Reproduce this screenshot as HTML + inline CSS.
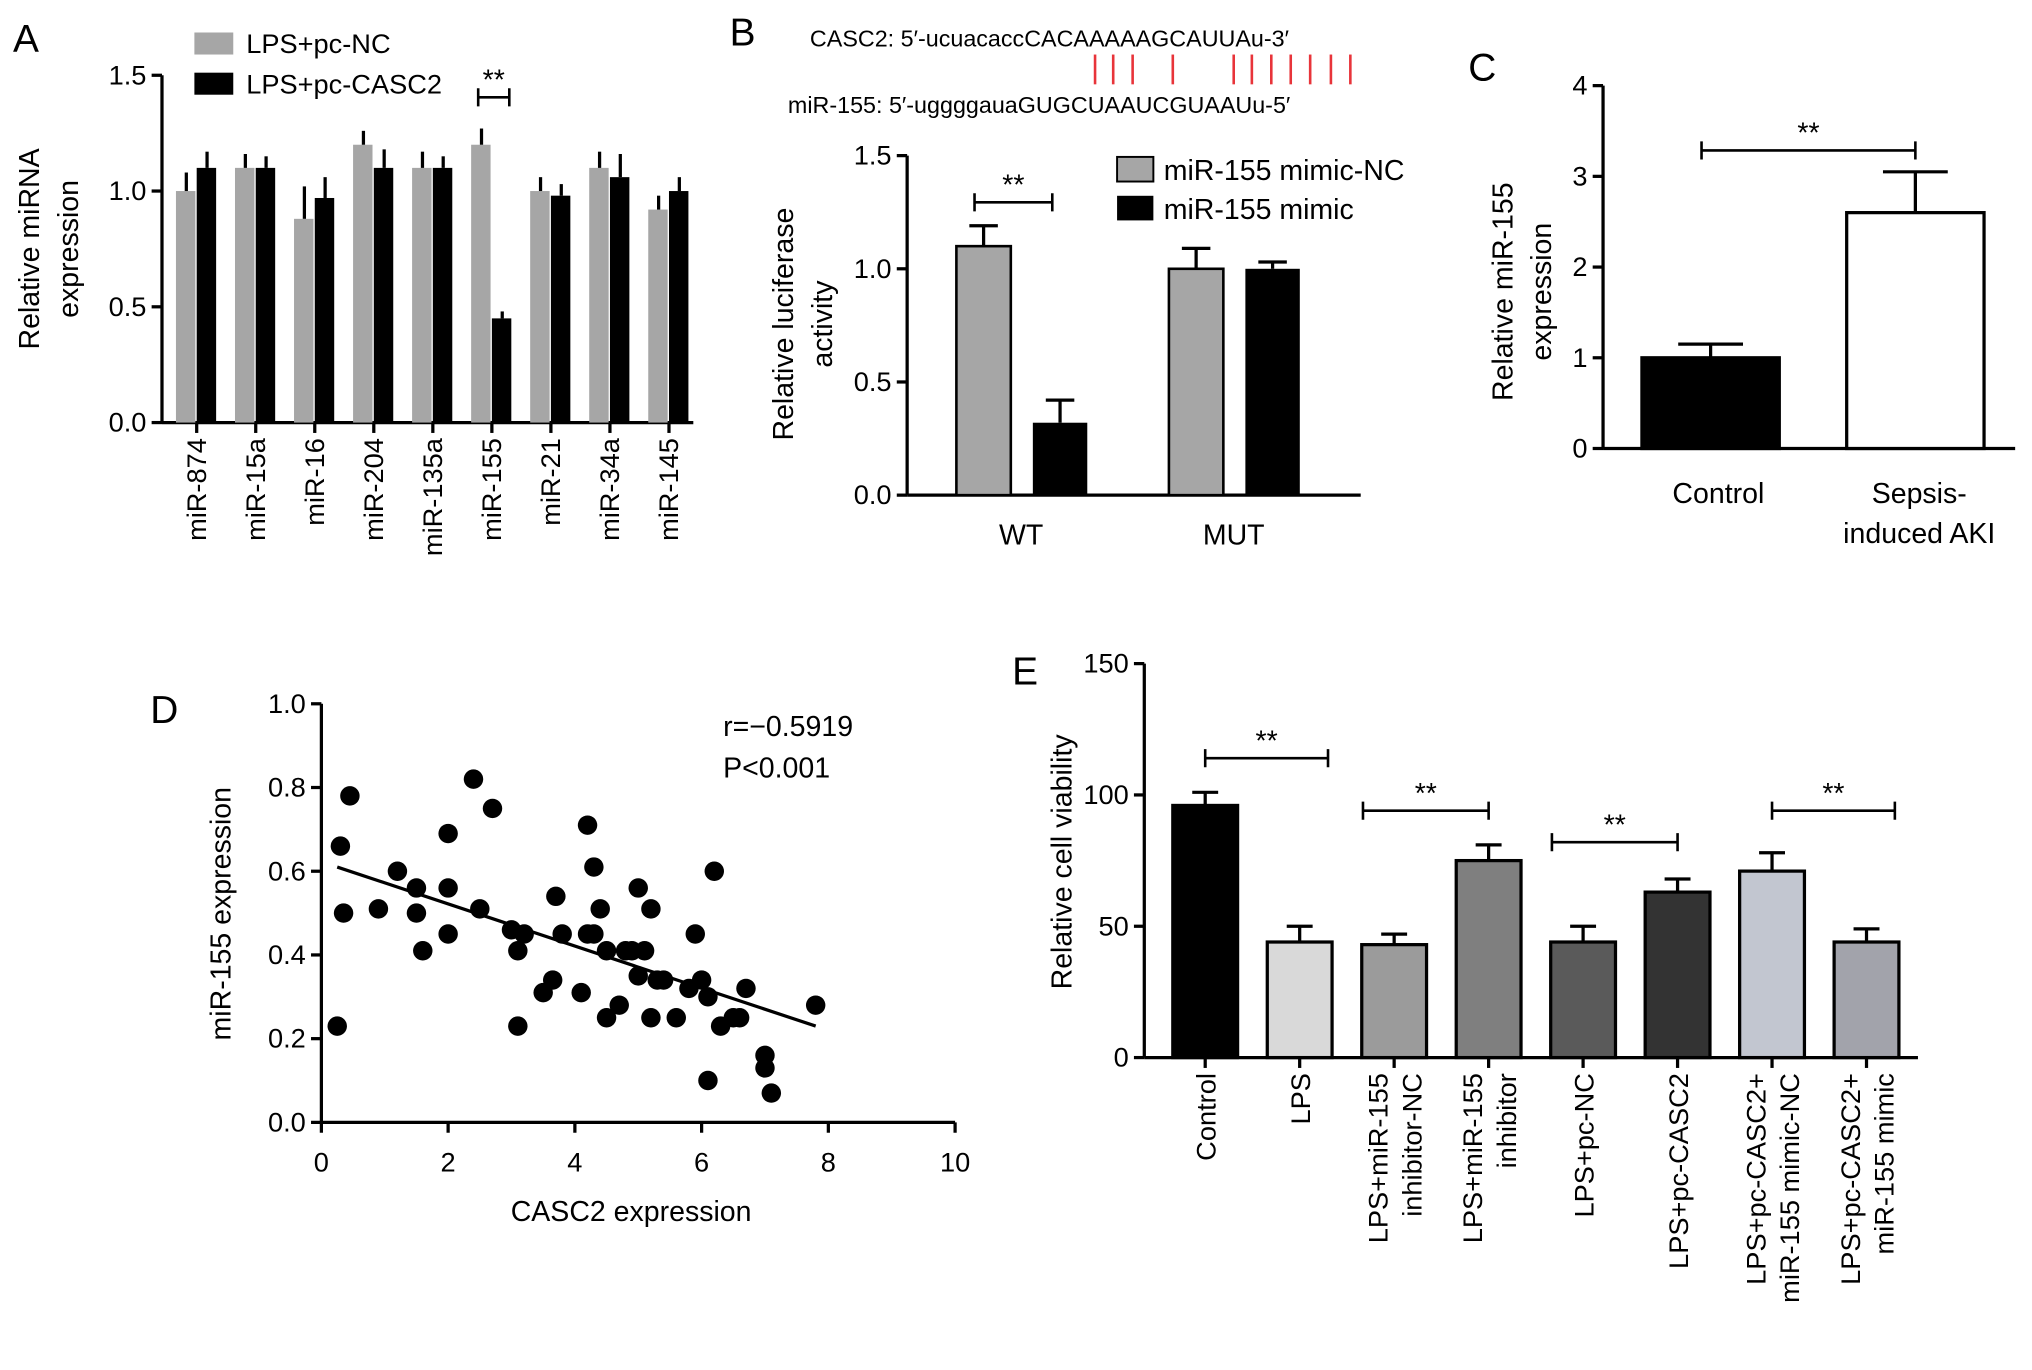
<!DOCTYPE html>
<html><head><meta charset="utf-8"><style>
html,body{margin:0;padding:0;background:#fff}
svg{display:block;font-family:"Liberation Sans",Arial,sans-serif}
</style></head><body>
<svg id="fig" width="2032" height="1370" viewBox="0 0 1568 1057" xmlns="http://www.w3.org/2000/svg">
<g font-size="30" fill="#000">
<text x="10" y="40">A</text><text x="563" y="35">B</text><text x="1133" y="62">C</text><text x="116" y="558">D</text><text x="781" y="528">E</text>
</g>
<g id="A"></g>
<g id="B"></g>
<g id="C"></g>
<g id="D"></g>
<g id="E"></g>
</svg>
<script>
// Panel A data
const aCats=["miR-874","miR-15a","miR-16","miR-204","miR-135a","miR-155","miR-21","miR-34a","miR-145"];
const aNC=[1.0,1.1,0.88,1.2,1.1,1.2,1.0,1.1,0.92];
const aNCerr=[0.08,0.06,0.14,0.06,0.07,0.07,0.06,0.07,0.06];
const aCASC=[1.1,1.1,0.97,1.1,1.1,0.45,0.98,1.06,1.0];
const aCASCerr=[0.07,0.05,0.09,0.08,0.05,0.03,0.05,0.1,0.06];
const aTicks=[0,0.5,1.0,1.5];
// Panel B data
const bCats=["WT","MUT"];
const bNC=[1.1,1.0];const bNCerr=[0.09,0.09];
const bMimic=[0.32,1.0];const bMimicErr=[0.1,0.03];
const bTicks=[0,0.5,1.0,1.5];
// Panel C data
const cCats=[["Control"],["Sepsis-","induced AKI"]];
const cVals=[1.0,2.6];const cErr=[0.15,0.45];
const cTicks=[0,1,2,3,4];
// Panel D data
const dX=[0.25,0.3,0.35,0.45,0.9,1.2,1.5,1.5,1.6,2.0,2.0,2.0,2.4,2.5,2.7,3.0,3.1,3.1,3.2,3.5,3.65,3.7,3.8,4.1,4.2,4.2,4.3,4.3,4.4,4.5,4.5,4.7,4.8,4.9,5.0,5.0,5.1,5.2,5.2,5.3,5.4,5.6,5.8,5.9,6.0,6.1,6.1,6.2,6.3,6.5,6.6,6.7,7.0,7.0,7.1,7.8];
const dY=[0.23,0.66,0.50,0.78,0.51,0.60,0.56,0.50,0.41,0.69,0.56,0.45,0.82,0.51,0.75,0.46,0.41,0.23,0.45,0.31,0.34,0.54,0.45,0.31,0.45,0.71,0.61,0.45,0.51,0.25,0.41,0.28,0.41,0.41,0.56,0.35,0.41,0.51,0.25,0.34,0.34,0.25,0.32,0.45,0.34,0.10,0.30,0.60,0.23,0.25,0.25,0.32,0.16,0.13,0.07,0.28];
const dFitX=[0.25,7.8];const dFitY=[0.61,0.23];
const dXTicks=[0,2,4,6,8,10];const dYTicks=[0,0.2,0.4,0.6,0.8,1.0];
// Panel E data
const eCats=[["Control"],["LPS"],["LPS+miR-155","inhibitor-NC"],["LPS+miR-155","inhibitor"],["LPS+pc-NC"],["LPS+pc-CASC2"],["LPS+pc-CASC2+","miR-155 mimic-NC"],["LPS+pc-CASC2+","miR-155 mimic"]];
const eVals=[96,44,43,75,44,63,71,44];
const eErr=[5,6,4,6,6,5,7,5];
const eColors=["#000000","#d9d9d9","#9b9b9b","#7f7f7f","#5a5a5a","#333333","#c2c6d0","#a2a3ab"];
const eTicks=[0,50,100,150];
// brackets: start / end in category units, and height in value units
const eBrStart=[0,1.67,3.67,6];
const eBrEnd=[1.3,3,5,7.3];
const eBrVal=[114,94,82,94];

const NS="http://www.w3.org/2000/svg";
function mk(p,t,a,txt){const e=document.createElementNS(NS,t);for(const k in a)e.setAttribute(k,a[k]);if(txt!==undefined)e.textContent=txt;p.appendChild(e);return e;}
const S={stroke:"#000","stroke-width":2.5,fill:"none"};
function yaxis(g,x,y0,y1,ticks,sy,fmt,fs){
  let l=mk(g,"line",{x1:x,y1:y0,x2:x,y2:y1,...S});
  
  
  ticks.forEach(t=>{mk(g,"line",{x1:x-8,x2:x,y1:sy(t),y2:sy(t),...S});
    let tx=mk(g,"text",{x:x-12,y:sy(t)+7,"text-anchor":"end","font-size":fs||21},fmt(t));
    
    });
}
function err(g,cx,yv,ye,w){mk(g,"line",{x1:cx,x2:cx,y1:yv,y2:ye,stroke:"#000","stroke-width":2.5});mk(g,"line",{x1:cx-w,x2:cx+w,y1:ye,y2:ye,stroke:"#000","stroke-width":2.5});}
function bracket(g,x1,x2,y){mk(g,"path",{d:`M${x1} ${y-7}V${y+7}M${x1} ${y}H${x2}M${x2} ${y-7}V${y+7}`,...S,"stroke-width":2});
  let t=mk(g,"text",{x:(x1+x2)/2,y:y-6,"text-anchor":"middle","font-size":22},"**");
  
  }
function vtext(g,x,y,lines,fs,anchor,lh){const t=mk(g,"text",{transform:`translate(${x},${y}) rotate(-90)`,"text-anchor":anchor,"font-size":fs});
  lines.forEach((s,i)=>{mk(t,"tspan",{x:0,dy:i?lh:0},s);});return t;}

// ---- A
(function(){const g=document.getElementById("A");
const y0=326,y1=58,sy=v=>y0-(v/1.5)*(y0-y1),x0=125,x1=535,gw=(x1-x0)/aCats.length;
yaxis(g,x0,y0,y1,aTicks,sy,t=>t.toFixed(1));
mk(g,"line",{x1:x0,x2:x1,y1:y0,y2:y0,...S});
aCats.forEach((c,i)=>{const cx=x0+gw*(i+0.5)+4;
 let b=mk(g,"rect",{x:cx-16,y:sy(aNC[i]),width:15,height:y0-sy(aNC[i]),fill:"#a6a6a6"});
 
 
 err(g,cx-8,sy(aNC[i]),sy(aNC[i]+aNCerr[i]),0);
 let b2=mk(g,"rect",{x:cx,y:sy(aCASC[i]),width:15,height:y0-sy(aCASC[i]),fill:"#000"});
 
 
 err(g,cx+8,sy(aCASC[i]),sy(aCASC[i]+aCASCerr[i]),0);
 mk(g,"line",{x1:cx,x2:cx,y1:y0,y2:y0+8,...S});
 let t=vtext(g,cx+7,y0+12,[c],21,"end",0);
 
 });
vtext(g,30,192,["Relative miRNA","expression"],22,"middle",30);
mk(g,"rect",{x:150,y:25,width:30,height:17,fill:"#a6a6a6"});mk(g,"text",{x:190,y:41,"font-size":21},"LPS+pc-NC");
mk(g,"rect",{x:150,y:56,width:30,height:17,fill:"#000"});mk(g,"text",{x:190,y:72,"font-size":21},"LPS+pc-CASC2");
bracket(g,369,393,75);
})();
// ---- B
(function(){const g=document.getElementById("B");
const y0=382,y1=120,sy=v=>y0-(v/1.5)*(y0-y1),x0=700,x1=1050;
yaxis(g,x0,y0,y1,bTicks,sy,t=>t.toFixed(1));
mk(g,"line",{x1:x0,x2:x1,y1:y0,y2:y0,...S});
const centers=[788,952];
bCats.forEach((c,i)=>{const cx=centers[i];
 let b=mk(g,"rect",{x:cx-50,y:sy(bNC[i]),width:42,height:y0-sy(bNC[i]),fill:"#a6a6a6",stroke:"#000","stroke-width":2});
 
 
 err(g,cx-29,sy(bNC[i]),sy(bNC[i]+bNCerr[i]),11);
 let b2=mk(g,"rect",{x:cx+9,y:sy(bMimic[i]),width:42,height:y0-sy(bMimic[i]),fill:"#000"});
 
 
 err(g,cx+30,sy(bMimic[i]),sy(bMimic[i]+bMimicErr[i]),11);
 let t=mk(g,"text",{x:cx,y:420,"text-anchor":"middle","font-size":22},c);
 
 });
vtext(g,612,250,["Relative luciferase","activity"],22,"middle",30);
mk(g,"rect",{x:862,y:121,width:28,height:19,fill:"#a6a6a6",stroke:"#000","stroke-width":1.5});mk(g,"text",{x:898,y:139,"font-size":22},"miR-155 mimic-NC");
mk(g,"rect",{x:862,y:151,width:28,height:19,fill:"#000"});mk(g,"text",{x:898,y:169,"font-size":22},"miR-155 mimic");
bracket(g,752,812,156);
mk(g,"text",{x:625,y:36,"font-size":18},"CASC2: 5′-ucuacaccCACAAAAAGCAUUAu-3′");
mk(g,"text",{x:608,y:87,"font-size":18},"miR-155: 5′-uggggauaGUGCUAAUCGUAAUu-5′");
[845,859,874,905,952,966,981,996,1011,1027,1042].forEach(x=>mk(g,"line",{x1:x,x2:x,y1:42,y2:65,stroke:"#e8343a","stroke-width":2}));
})();
// ---- C
(function(){const g=document.getElementById("C");
const y0=346,y1=66,sy=v=>y0-(v/4)*(y0-y1),x0=1237,x1=1555;
yaxis(g,x0,y0,y1,cTicks,sy,t=>String(t));
mk(g,"line",{x1:x0,x2:x1,y1:y0,y2:y0,...S});
const centers=[1320,1478];
cVals.forEach((v,i)=>{const cx=centers[i];
 err(g,cx,sy(v),sy(v+cErr[i]),25);
 let b=mk(g,"rect",{x:cx-53,y:sy(v),width:106,height:y0-sy(v),fill:i?"#fff":"#000",stroke:"#000","stroke-width":2.5});
 
 
 const t=mk(g,"text",{x:cx+(i?3:6),y:388,"text-anchor":"middle","font-size":22});
 cCats[i].forEach((s,j)=>mk(t,"tspan",{x:cx+(i?3:6),dy:j?31:0},s));
 
 });
vtext(g,1167,225,["Relative miR-155","expression"],22,"middle",30);
bracket(g,1313,1478,116);
})();
// ---- D
(function(){const g=document.getElementById("D");
const y0=866,y1=543,x0=248,x1=737,sy=v=>y0-v*(y0-y1),sx=v=>x0+v/10*(x1-x0);
yaxis(g,x0,y0,y1,dYTicks,sy,t=>t.toFixed(1));
mk(g,"line",{x1:x0,x2:x1,y1:y0,y2:y0,...S});
dXTicks.forEach(t=>{mk(g,"line",{x1:sx(t),x2:sx(t),y1:y0,y2:y0+8,...S});
 let tx=mk(g,"text",{x:sx(t),y:y0+38,"text-anchor":"middle","font-size":21},String(t));
 
 });
let fl=mk(g,"line",{x1:sx(dFitX[0]),y1:sy(dFitY[0]),x2:sx(dFitX[1]),y2:sy(dFitY[1]),stroke:"#000","stroke-width":2.5});


dX.forEach((x,i)=>{let c=mk(g,"circle",{cx:sx(x),cy:sy(dY[i]),r:7.5,fill:"#000"});
 
 });
mk(g,"text",{x:558,y:568,"font-size":22},"r=−0.5919");
mk(g,"text",{x:558,y:600,"font-size":22},"P<0.001");
vtext(g,178,705,["miR-155 expression"],22,"middle",0);
mk(g,"text",{x:487,y:942,"text-anchor":"middle","font-size":22},"CASC2 expression");
})();
// ---- E
(function(){const g=document.getElementById("E");
const y0=816,y1=512,x0=883,x1=1480,sy=v=>y0-(v/150)*(y0-y1);
yaxis(g,x0,y0,y1,eTicks,sy,t=>String(t));
mk(g,"line",{x1:x0,x2:x1,y1:y0,y2:y0,...S});
const cx=i=>930+i*72.9;
eVals.forEach((v,i)=>{const c=cx(i);
 err(g,c,sy(v),sy(v+eErr[i]),10);
 let b=mk(g,"rect",{x:c-25,y:sy(v),width:50,height:y0-sy(v),fill:eColors[i],stroke:"#000","stroke-width":2.5});
 
 
 mk(g,"line",{x1:c,x2:c,y1:y0,y2:y0+8,...S});
 const n=eCats[i].length;
 let t=vtext(g,c+8-(n-1)*13,y0+12,eCats[i],21,"end",26);
 
 });
eBrStart.forEach((s,k)=>bracket(g,cx(s),cx(eBrEnd[k]),sy(eBrVal[k])));
vtext(g,827,665,["Relative cell viability"],22,"middle",0);
})();
</script>
</body></html>
